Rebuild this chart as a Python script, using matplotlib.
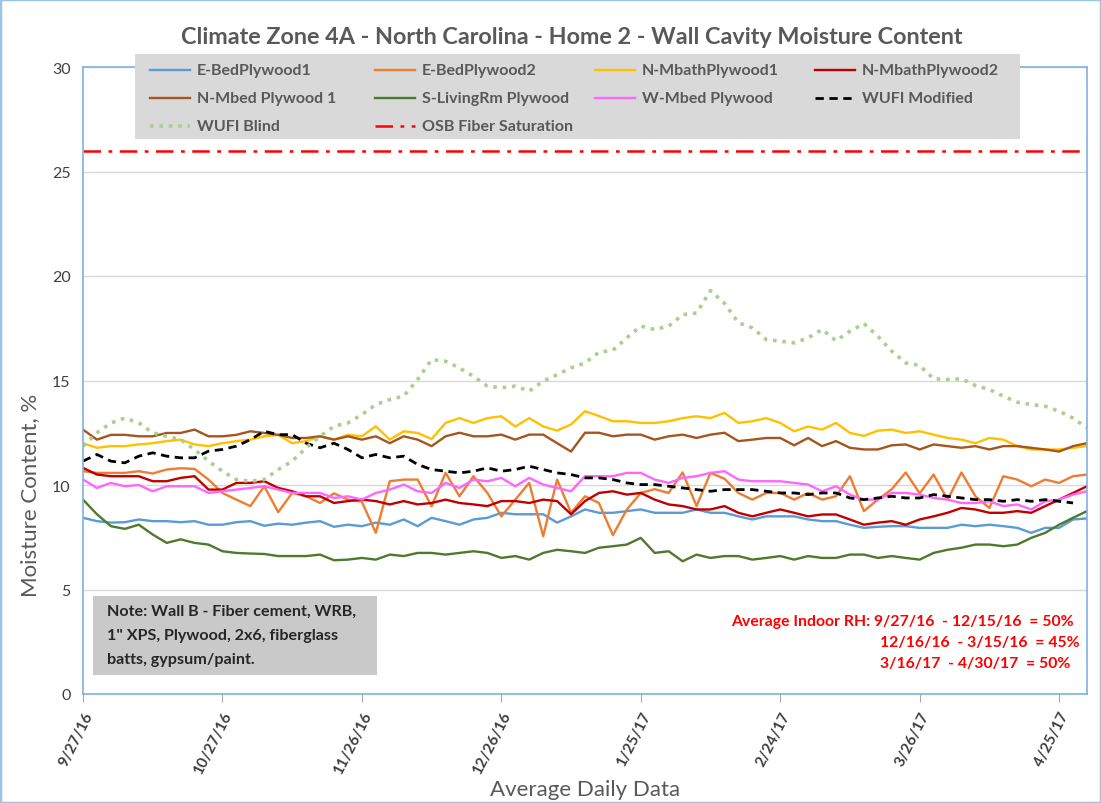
import numpy as np
import matplotlib
matplotlib.use("Agg")
import matplotlib.pyplot as plt
from matplotlib.patches import Rectangle
from matplotlib.lines import Line2D

plt.rcParams['font.family'] = ['Lato', 'DejaVu Sans']

# readings every 3 days starting 9/27/16
start = np.datetime64('2016-09-27')
days = np.arange(0, 217, 3)
dates = start + days.astype('timedelta64[D]')

e_bed1 = [8.43, 8.27, 8.2, 8.22, 8.35, 8.27, 8.27, 8.22, 8.27, 8.1, 8.1, 8.22, 8.27, 8.05, 8.15, 8.1, 8.2, 8.27, 8.0,
          8.1, 8.03, 8.2, 8.1, 8.35, 8.03, 8.43, 8.27, 8.1, 8.35, 8.43, 8.67, 8.6, 8.6, 8.6, 8.2, 8.5, 8.83,
          8.67, 8.67, 8.75, 8.83, 8.67, 8.67, 8.67, 8.83, 8.67, 8.67, 8.5, 8.35, 8.5, 8.5, 8.5, 8.35, 8.27,
          8.27, 8.1, 7.95, 8.0, 8.03, 8.03, 7.95, 7.95, 7.95, 8.1, 8.03, 8.1, 8.03, 7.95, 7.71, 7.95, 7.95, 8.35, 8.4]
e_bed2 = [10.66, 10.58, 10.58, 10.58, 10.66, 10.55, 10.74, 10.8, 10.77, 10.26, 9.62, 9.3, 8.99, 9.94, 8.7, 9.62, 9.46, 9.14, 9.6,
          9.3, 9.2, 7.71, 10.18, 10.26, 10.26, 8.98, 10.58, 9.46, 10.42, 9.62, 8.5, 9.3, 10.1, 7.55, 10.26, 8.67, 9.46,
          9.14, 7.6, 8.83, 9.62, 9.8, 9.62, 10.6, 8.99, 10.58, 10.3, 9.62, 9.3, 9.62, 9.62, 9.3, 9.62, 9.3,
          9.46, 10.42, 8.75, 9.3, 9.8, 10.6, 9.6, 10.5, 9.3, 10.6, 9.46, 8.9, 10.42, 10.26, 9.94, 10.26, 10.1, 10.42, 10.5]
n_mbath1 = [12.0, 11.78, 11.86, 11.86, 11.94, 12.0, 12.1, 12.17, 11.94, 11.86, 12.0, 12.1, 12.17, 12.33, 12.4, 12.0, 12.1, 12.33, 12.17,
            12.4, 12.33, 12.81, 12.17, 12.57, 12.49, 12.2, 12.97, 13.2, 12.97, 13.2, 13.29, 12.8, 13.2, 12.8, 12.6, 12.9, 13.53,
            13.3, 13.05, 13.05, 12.97, 12.97, 13.05, 13.2, 13.29, 13.2, 13.45, 12.97, 13.05, 13.2, 12.97, 12.57, 12.8, 12.65,
            12.97, 12.49, 12.35, 12.6, 12.65, 12.49, 12.57, 12.41, 12.25, 12.17, 12.0, 12.25, 12.17, 11.86, 11.7, 11.7, 11.7, 11.78, 11.86]
n_mbath2 = [10.82, 10.5, 10.42, 10.42, 10.42, 10.18, 10.18, 10.34, 10.42, 9.78, 9.78, 10.1, 10.1, 10.18, 9.86, 9.7, 9.46, 9.46, 9.14,
            9.23, 9.3, 9.23, 9.07, 9.23, 9.07, 9.14, 9.3, 9.14, 9.07, 8.99, 9.23, 9.23, 9.14, 9.3, 9.23, 8.6, 9.23,
            9.62, 9.7, 9.54, 9.62, 9.3, 9.07, 8.99, 8.83, 8.83, 8.99, 8.67, 8.5, 8.67, 8.83, 8.67, 8.5, 8.59,
            8.59, 8.35, 8.1, 8.2, 8.27, 8.1, 8.35, 8.5, 8.67, 8.9, 8.83, 8.67, 8.67, 8.75, 8.67, 8.99, 9.3, 9.62, 9.94]
n_mbed1 = [12.65, 12.17, 12.4, 12.4, 12.33, 12.33, 12.49, 12.49, 12.65, 12.33, 12.33, 12.4, 12.57, 12.49, 12.4, 12.25, 12.25, 12.33, 12.17,
           12.33, 12.17, 12.33, 12.0, 12.33, 12.17, 11.86, 12.33, 12.5, 12.33, 12.33, 12.41, 12.17, 12.41, 12.41, 12.0, 11.6, 12.5,
           12.5, 12.33, 12.41, 12.41, 12.17, 12.33, 12.41, 12.25, 12.41, 12.5, 12.1, 12.17, 12.25, 12.25, 11.9, 12.25, 11.86,
           12.1, 11.78, 11.7, 11.7, 11.9, 11.94, 11.7, 11.94, 11.86, 11.78, 11.86, 11.7, 11.86, 11.86, 11.78, 11.7, 11.6, 11.86, 12.0]
s_living = [9.3, 8.6, 8.03, 7.9, 8.1, 7.63, 7.23, 7.4, 7.23, 7.15, 6.83, 6.75, 6.72, 6.7, 6.6, 6.6, 6.6, 6.67, 6.4,
            6.43, 6.51, 6.43, 6.67, 6.6, 6.75, 6.75, 6.67, 6.75, 6.83, 6.75, 6.51, 6.6, 6.43, 6.75, 6.9, 6.83, 6.75,
            7.0, 7.07, 7.15, 7.47, 6.75, 6.83, 6.35, 6.67, 6.51, 6.6, 6.6, 6.43, 6.51, 6.6, 6.43, 6.6, 6.51,
            6.51, 6.67, 6.67, 6.51, 6.6, 6.51, 6.43, 6.75, 6.9, 7.0, 7.15, 7.15, 7.07, 7.15, 7.47, 7.71, 8.1, 8.43, 8.75]
w_mbed = [10.26, 9.86, 10.1, 9.94, 10.0, 9.7, 9.94, 9.94, 9.94, 9.62, 9.7, 9.78, 9.86, 9.94, 9.78, 9.62, 9.62, 9.62, 9.38,
          9.46, 9.3, 9.62, 9.78, 10.02, 9.7, 9.62, 10.1, 9.86, 10.26, 10.18, 10.34, 9.94, 10.34, 10.02, 9.86, 9.7, 10.42,
          10.42, 10.42, 10.58, 10.58, 10.26, 10.1, 10.34, 10.42, 10.58, 10.66, 10.26, 10.18, 10.18, 10.18, 10.1, 10.02, 9.7,
          9.94, 9.54, 9.3, 9.3, 9.62, 9.62, 9.54, 9.38, 9.3, 9.14, 9.14, 9.22, 8.99, 9.07, 8.83, 9.22, 9.3, 9.54, 9.7]
wufi_mod = [11.14, 11.46, 11.14, 11.06, 11.38, 11.54, 11.38, 11.3, 11.3, 11.62, 11.7, 11.86, 12.17, 12.57, 12.41, 12.41, 12.0, 11.78, 12.0,
            11.7, 11.3, 11.46, 11.3, 11.38, 10.98, 10.74, 10.66, 10.58, 10.66, 10.82, 10.66, 10.74, 10.9, 10.74, 10.58, 10.5, 10.34,
            10.34, 10.26, 10.1, 10.02, 10.02, 9.94, 9.86, 9.78, 9.7, 9.78, 9.78, 9.78, 9.7, 9.62, 9.62, 9.54, 9.62,
            9.62, 9.38, 9.3, 9.38, 9.46, 9.38, 9.38, 9.54, 9.46, 9.38, 9.3, 9.3, 9.22, 9.3, 9.22, 9.3, 9.22, 9.14, np.nan]
wufi_blind = [11.86, 12.5, 12.97, 13.2, 12.97, 12.5, 12.33, 12.17, 11.7, 11.14, 10.66, 10.26, 10.18, 10.26, 10.74, 11.14, 11.78, 12.33, 12.81,
              12.97, 13.37, 13.85, 14.09, 14.25, 15.05, 16.0, 15.92, 15.6, 15.2, 14.73, 14.65, 14.73, 14.49, 14.97, 15.28, 15.6, 15.84,
              16.35, 16.45, 17.04, 17.6, 17.44, 17.6, 18.15, 18.23, 19.3, 18.7, 17.76, 17.52, 16.96, 16.88, 16.8, 17.04, 17.44,
              16.9, 17.36, 17.72, 17.12, 16.4, 15.84, 15.72, 15.08, 15.05, 15.08, 14.76, 14.57, 14.25, 13.96, 13.85, 13.77, 13.53, 13.2, 12.73]
osb_saturation = 26

W, H = 1101, 804
fig = plt.figure(figsize=(W / 100, H / 100), dpi=100)
ax = fig.add_axes([83 / W, 1 - 695 / H, (1087 - 83) / W, (695 - 68) / H])

lw = 1.7
series = [
    ('E-BedPlywood1', e_bed1, dict(color='#5B9BD5', lw=lw)),
    ('E-BedPlywood2', e_bed2, dict(color='#ED7D31', lw=lw)),
    ('N-MbathPlywood1', n_mbath1, dict(color='#FFC000', lw=lw)),
    ('N-MbathPlywood2', n_mbath2, dict(color='#C00000', lw=lw)),
    ('N-Mbed Plywood 1', n_mbed1, dict(color='#A5561E', lw=lw)),
    ('S-LivingRm Plywood', s_living, dict(color='#4E7A2E', lw=lw)),
    ('W-Mbed Plywood', w_mbed, dict(color='#FF66FF', lw=lw)),
    ('WUFI Modified', wufi_mod, dict(color='black', lw=2, dashes=(3, 2))),
    ('WUFI Blind', wufi_blind, dict(color='#A9D18E', lw=2.6, dashes=(1, 1.6))),
]
styles = []
for name, vals, kw in series:
    ax.plot(dates, vals, **kw)
    styles.append((name, kw))
osb_kw = dict(color='#FF0000', lw=1.8, dashes=(7, 3, 1.5, 3))
ax.axhline(osb_saturation, **osb_kw)
styles.append(('OSB Fiber Saturation', osb_kw))

ax.set_ylim(0, 30)
ax.set_yticks(np.arange(0, 31, 5))
ax.set_xlim(start, start + np.timedelta64(216, 'D'))
xt = start + (np.arange(0, 211, 30)).astype('timedelta64[D]')
ax.set_xticks(xt)
ax.set_xticklabels([f"{d.month}/{d.day}/{d.year % 100}" for d in xt.astype(object)],
                   rotation=63, ha='right', rotation_mode='anchor', fontsize=11, fontweight='bold',
                   color='#404040')
ax.tick_params(axis='y', length=0, labelsize=11.5, labelcolor='#404040', pad=9)
ax.tick_params(axis='x', length=6, color='#A6A6A6', pad=5)
ax.grid(axis='y', color='#D9D9D9', lw=1)
ax.set_axisbelow(True)
for s in ax.spines.values():
    s.set_color('#7FB2E0')
    s.set_linewidth(1.2)

# legend box, laid out like the spreadsheet's: 4 equal columns, row-major
fig.patches.append(Rectangle((135 / W, 1 - 140 / H), 885 / W, 85 / H, transform=fig.transFigure,
                             facecolor='#D9D9D9', edgecolor='none', zorder=5))
col_x = [150, 375, 595, 815]
row_y = [71, 99, 127]
for i, (name, kw) in enumerate(styles):
    r, c = divmod(i, 4)
    x0, y0 = col_x[c], row_y[r]
    fig.add_artist(Line2D([x0 / W, (x0 + 40) / W], [1 - y0 / H, 1 - y0 / H], transform=fig.transFigure,
                          zorder=6, **kw))
    fig.text((x0 + 47) / W, 1 - y0 / H, name, ha='left', va='center', fontsize=11.5,
             fontweight='bold', color='#595959', zorder=6)

fig.text(572 / W, 1 - 38 / H, 'Climate Zone 4A - North Carolina - Home 2 - Wall Cavity Moisture Content',
         ha='center', va='center', fontsize=16.8, fontweight='bold', color='#595959')
fig.text(30 / W, 1 - 495 / H, 'Moisture Content, %', rotation=90, ha='center', va='center',
         fontsize=16, color='#595959')
fig.text(585 / W, 1 - 790 / H, 'Average Daily Data', ha='center', va='center',
         fontsize=16, color='#595959')

# note box
fig.patches.append(Rectangle((93 / W, 1 - 676 / H), 284 / W, 79 / H, transform=fig.transFigure,
                             facecolor='#C9C9C9', edgecolor='none', zorder=5))
fig.text(107 / W, 1 - 612 / H, 'Note: Wall B - Fiber cement, WRB,', ha='left', va='center',
         fontsize=11.6, fontweight='bold', color='#262626', zorder=6)
fig.text(107 / W, 1 - 636 / H, '1" XPS, Plywood, 2x6, fiberglass', ha='left', va='center',
         fontsize=11.6, fontweight='bold', color='#262626', zorder=6)
fig.text(107 / W, 1 - 660 / H, 'batts, gypsum/paint.', ha='left', va='center',
         fontsize=11.6, fontweight='bold', color='#262626', zorder=6)

rh_kw = dict(ha='left', va='center', fontsize=11.3, fontweight='bold', color='#FF0000')
fig.text(731 / W, 1 - 622 / H, 'Average Indoor RH: 9/27/16  - 12/15/16  = 50%', **rh_kw)
fig.text(880 / W, 1 - 643 / H, '12/16/16  - 3/15/16  = 45%', **rh_kw)
fig.text(880 / W, 1 - 664 / H, '3/16/17  - 4/30/17  = 50%', **rh_kw)

fig.patches.append(Rectangle((0, 0), 1, 1, transform=fig.transFigure, fill=False,
                             edgecolor='#9DC3E6', lw=2.5))

fig.savefig('out.png', dpi=100)
